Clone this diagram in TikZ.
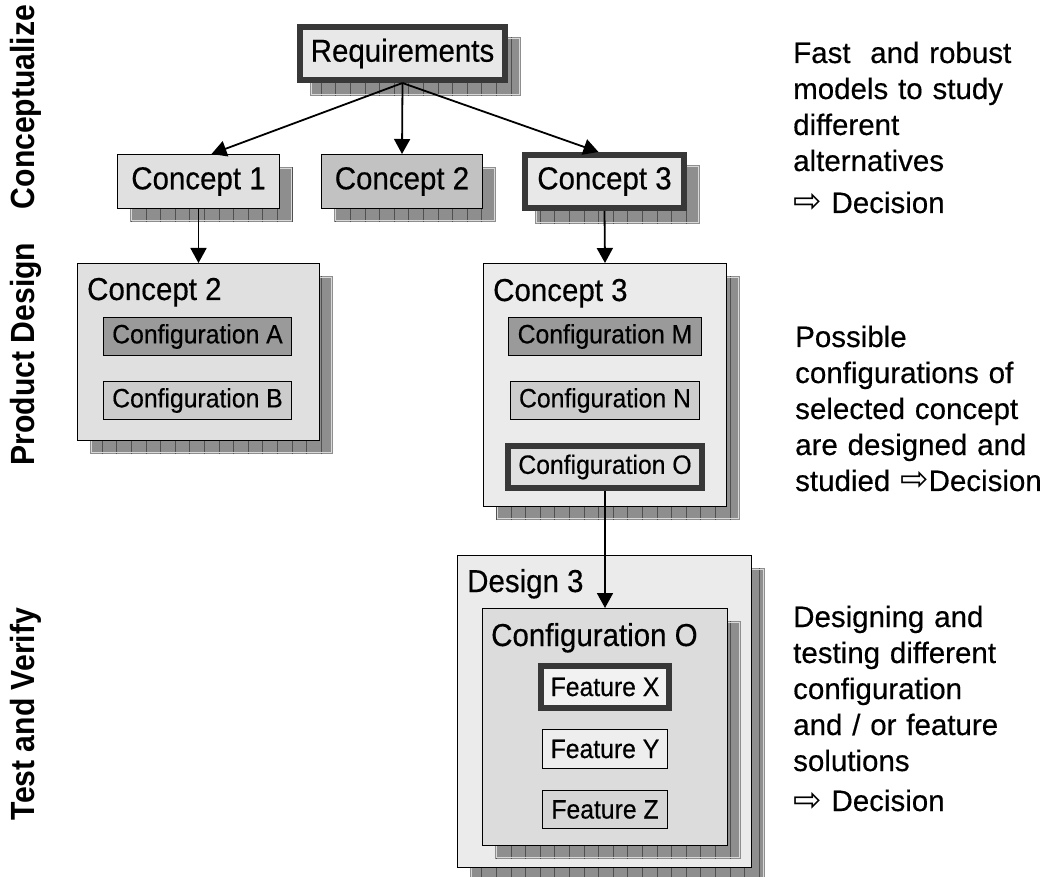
\documentclass[tikz,border=0pt]{standalone}
\usepackage{fontspec}
\setmainfont{Liberation Sans}[FakeBold=0.4]
\newfontfamily\boxfont{Liberation Sans}[FakeStretch=0.93, FakeBold=0.4]
\newfontfamily\phasefont{Liberation Sans Bold}[FakeStretch=0.9]
\newfontfamily\symfont{DejaVu Sans}
\usetikzlibrary{arrows.meta}

\definecolor{edgedark}{HTML}{383838}
\definecolor{shadowfill}{HTML}{8E8E8E}
\definecolor{shadowgrid}{HTML}{505050}
\definecolor{shadowlight}{HTML}{D8D8D8}
\definecolor{paleA}{HTML}{E8E8E8}
\definecolor{paleB}{HTML}{E0E0E0}
\definecolor{paleC}{HTML}{EBEBEB}
\definecolor{midgray}{HTML}{C2C2C2}
\definecolor{lightgray}{HTML}{CCCCCC}
\definecolor{darkfill}{HTML}{9A9A9A}
\definecolor{featX}{HTML}{F2F2F2}
\definecolor{featY}{HTML}{EEEEEE}
\definecolor{featZ}{HTML}{D6D6D6}
\definecolor{innerbox}{HTML}{DCDCDC}

% hatched drop shadow behind a box given by its outer edges x1,y1,x2,y2
\newcommand\gridshadow[4]{%
  \begin{scope}
    \clip (#1+13,#2+13) rectangle (#3+13,#4+13);
    \fill[shadowfill] (#1+13,#2+13) rectangle (#3+13,#4+13);
    \draw[shadowgrid, line width=0.8pt, step=14.6] (#1+13,#2+13) grid (#3+13,#4+13);
    \draw[shadowlight, line width=0.8pt] (#1+14.5,#2+14.5) rectangle (#3+11.5,#4+11.5);
  \end{scope}}

\newcommand\thinarrow{{\symfont\fontsize{34}{36}\selectfont ⇨}}

\begin{document}
\begin{tikzpicture}[x=1pt, y=-1pt,
  thinbox/.style={draw=black, line width=1.4pt, inner sep=0pt, rectangle},
  heavybox/.style={draw=edgedark, line width=6pt, inner sep=0pt, rectangle},
  titlefont/.style={font=\boxfont\fontsize{31.7}{36}\selectfont},
  cfgfont/.style={font=\boxfont\fontsize{26.6}{30}\selectfont},
  notefont/.style={font=\fontsize{29.5}{36}\selectfont, text width=260pt, align=left,
    anchor=base west, inner sep=0pt},
  phase/.style={font=\phasefont\fontsize{33.5}{36}\selectfont, rotate=90, inner sep=0pt},
  caption/.style={font=\boxfont\fontsize{31.7}{36}\selectfont, anchor=base west, inner sep=0pt},
  flow/.style={line width=1.8pt, -{Triangle[length=15pt,width=16pt]}}]

\useasboundingbox (0,0) rectangle (1047,877);

% phase labels
\node[phase] (ph1) at (26,107) {Conceptualize};
\node[phase] (ph2) at (26,354) {Product Design};
\node[phase] (ph3) at (26,714) {Test and Verify};

% conceptualize level
\gridshadow{297}{24}{508}{83}
\node[heavybox, fill=paleA, titlefont, minimum width=205, minimum height=53] (req) at (402.5,53.5) {Requirements};

\gridshadow{117}{154}{280}{209}
\node[thinbox, fill=paleB, titlefont, minimum width=161.6, minimum height=53.6] (c1) at (198.5,181.5) {Concept 1};

\gridshadow{321}{154}{483}{209}
\node[thinbox, fill=midgray, titlefont, minimum width=160.6, minimum height=53.6] (c2) at (402,181.5) {Concept 2};

\gridshadow{522}{152}{687}{211}
\node[heavybox, fill=paleA, titlefont, minimum width=159, minimum height=53] (c3) at (604.5,181.5) {Concept 3};

% product design level
\gridshadow{77}{263}{320}{441}
\node[thinbox, fill=paleB, minimum width=241.6, minimum height=176.6] (pc2) at (198.5,352) {};
\node[caption] (pc2t) at (87,300) {Concept 2};
\node[thinbox, fill=darkfill, cfgfont, minimum width=187.6, minimum height=37.6] (cfa) at (197.5,336.5) {Configuration A};
\node[thinbox, fill=lightgray, cfgfont, minimum width=187.6, minimum height=37.6] (cfb) at (197.5,400.5) {Configuration B};

\gridshadow{483}{263}{727}{507}
\node[thinbox, fill=paleC, minimum width=242.6, minimum height=242.6] (pc3) at (605,385) {};
\node[caption] (pc3t) at (493,301) {Concept 3};
\node[thinbox, fill=darkfill, cfgfont, minimum width=192.6, minimum height=37.6] (cfm) at (605,336.5) {Configuration M};
\node[thinbox, fill=lightgray, cfgfont, minimum width=188.6, minimum height=37.6] (cfn) at (605,400.5) {Configuration N};
\node[heavybox, fill=paleB, cfgfont, minimum width=194, minimum height=42] (cfo) at (605,467) {Configuration O};

% test and verify level
\gridshadow{457}{555}{752}{868}
\node[thinbox, fill=paleC, minimum width=293.6, minimum height=311.6] (d3) at (604.5,711.5) {};
\node[caption] (d3t) at (467,592) {Design 3};

\gridshadow{482}{608}{728}{846}
\node[thinbox, fill=innerbox, minimum width=244.6, minimum height=236.6] (co) at (605,727) {};
\node[caption] (cot) at (491,646) {Configuration O};
\node[heavybox, fill=featX, cfgfont, minimum width=128, minimum height=42] (fx) at (605,687) {Feature X};
\node[thinbox, fill=featY, cfgfont, minimum width=124.6, minimum height=38.6] (fy) at (605,749) {Feature Y};
\node[thinbox, fill=featZ, cfgfont, minimum width=124.6, minimum height=37.6] (fz) at (605,809.5) {Feature Z};

% connectors
\draw[flow] (req.south) -- ([xshift=13]c1.north);
\draw[flow] (req.south) -- (c2.north);
\draw[flow] (req.south) -- ([xshift=-6]c3.north);
\draw[flow] (c1.south) -- (pc2.north);
\draw[flow] (c3.south) -- (pc3.north);
\draw[flow] (cfo.south) -- (co.north);

% notes on the right
\node[notefont] (n1) at (793,63) {Fast\ \ and robust\\models to study\\different\\alternatives\\[6pt]\thinarrow\ Decision};
\node[notefont] (n2) at (795,347) {Possible\\configurations of\\selected concept\\are designed and\\studied \thinarrow Decision};
\node[notefont] (n3) at (793,627) {Designing and\\testing different\\configuration\\and / or feature\\solutions\\[4pt]\thinarrow\ Decision};
\end{tikzpicture}
\end{document}
